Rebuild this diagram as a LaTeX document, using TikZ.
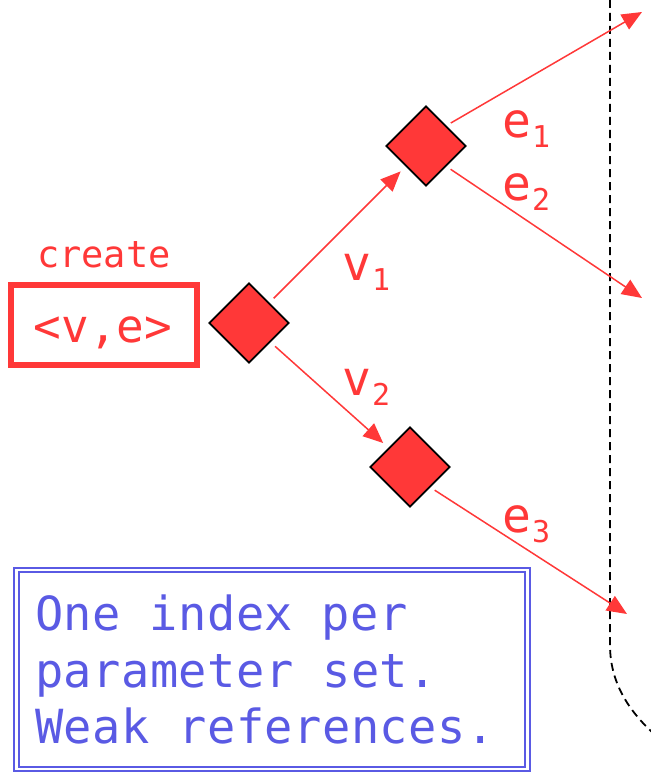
\documentclass[tikz,border=0pt]{standalone}
\usepackage{fontspec}
\setmainfont{DejaVu Sans Mono}
\newfontfamily\notefont[LetterSpace=1.0]{DejaVu Sans Mono}
\usetikzlibrary{shapes.geometric,arrows.meta,calc}
\definecolor{cred}{RGB}{255,56,56}
\definecolor{cblue}{RGB}{90,90,228}
\newcommand\lbl[2]{#1\kern1pt\raisebox{-10pt}{\fontsize{30}{30}\selectfont #2}}
\begin{document}
\begin{tikzpicture}[x=1pt,y=-1pt,
  dia/.style={diamond,aspect=1,minimum size=80pt,inner sep=0pt,fill=cred,draw=black,line width=1.8pt},
  arr/.style={draw=cred,line width=1.5pt,-{Triangle[length=20pt,width=17pt]}},
  lab/.style={text=cred,inner sep=0pt,anchor=base west,font=\fontsize{48}{48}\selectfont},
  note/.style={text=cblue,inner sep=0pt,anchor=base west,font=\notefont\fontsize{47}{47}\selectfont}]
\useasboundingbox (0,0) rectangle (650,773);
% diamonds
\node[dia] (d1) at (249,323) {};
\node[dia] (d2) at (426,146) {};
\node[dia] (d3) at (410,467) {};
% create box
\node[text=cred,anchor=base,inner sep=0pt,font=\fontsize{37}{37}\selectfont] (cr) at (104,267) {create};
\node[draw=cred,line width=6pt,minimum width=186pt,minimum height=80pt,inner sep=0pt] (ve) at (104,325) {};
\node[text=cred,anchor=base,inner sep=0pt,font=\fontsize{46}{46}\selectfont] (vet) at (103,342) {<v,e>};
% targets
\coordinate (t1) at (642,12);
\coordinate (t2) at (642,298);
\coordinate (t3) at (627,614);
% dashed boundary
\draw[black,line width=1.8pt,dash pattern=on 8pt off 5pt] (610,0) -- (610,645) .. controls (610,682) and (628,710) .. (654,734);
% arrows
\draw[arr,shorten <=6pt,shorten >=7pt] (d1) -- (d2);
\draw[arr,shorten <=6pt,shorten >=7pt] (d1) -- (d3);
\draw[arr,shorten <=5pt] (d2.north east) -- (t1);
\draw[arr,shorten <=5pt] (d2.south east) -- (t2);
\draw[arr,shorten <=5pt] (d3.south east) -- (t3);
% labels
\node[lab] (v1) at (342,280) {\lbl{v}{1}};
\node[lab] (v2) at (342,395) {\lbl{v}{2}};
\node[lab] (e1) at (502,137) {\lbl{e}{1}};
\node[lab] (e2) at (502,200) {\lbl{e}{2}};
\node[lab] (e3) at (502,532) {\lbl{e}{3}};
% note box
\node[draw=cblue,line width=2pt,double=white,double distance=2.6pt,minimum width=511pt,minimum height=199pt,inner sep=0pt] (nb) at (272,669.5) {};
\node[note] (n1) at (35,630) {One index per};
\node[note] (n2) at (35,687) {parameter set.};
\node[note] (n3) at (35,743) {Weak references.};
\end{tikzpicture}
\end{document}
